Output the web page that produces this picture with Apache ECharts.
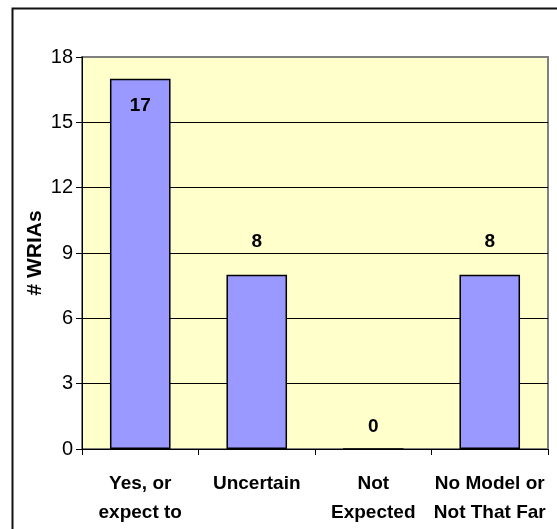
<!DOCTYPE html>
<html>
<head>
<meta charset="utf-8">
<script src="https://cdn.jsdelivr.net/npm/echarts@6/dist/echarts.min.js"></script>
<style>
  html, body { margin: 0; padding: 0; background: #ffffff; }
  #chart { width: 557px; height: 529px; }
</style>
</head>
<body>
<div id="chart"></div>
<script>
// Number of WRIAs per response category
const categories = ['Yes, or\nexpect to', 'Uncertain', 'Not\nExpected', 'No Model or\nNot That Far'];
const counts = [17, 8, 0, 8];
const yTicks = { min: 0, max: 18, step: 3 };
const yTitle = '# WRIAs';

// label placement per bar: tall bar keeps its label inside the top
const labelPlacement = [
  { position: 'insideTop', distance: 17 },
  { position: 'top', distance: 24 },
  { position: 'top', distance: 12 },
  { position: 'top', distance: 24 }
];

const chart = echarts.init(document.getElementById('chart'), null, { renderer: 'canvas' });

const barData = counts.map((v, i) => ({
  value: v,
  label: labelPlacement[i]
}));

chart.setOption({
  animation: false,
  backgroundColor: '#ffffff',
  textStyle: { fontFamily: 'Liberation Sans, Arial, sans-serif' },
  graphic: [{
    type: 'rect',
    left: 10, top: 6,
    shape: { width: 580, height: 560 },
    style: { fill: 'none', stroke: '#111111', lineWidth: 2 },
    silent: true,
    z: 100
  }],
  grid: {
    left: 82, right: 9, top: 57, bottom: 80,
    show: true,
    backgroundColor: '#FFFFCC',
    borderColor: '#808080',
    borderWidth: 2
  },
  xAxis: {
    type: 'category',
    data: categories,
    axisLine: { lineStyle: { color: '#000000', width: 1 } },
    axisTick: { show: true, length: 6, lineStyle: { color: '#000000' } },
    axisLabel: {
      color: '#000000',
      fontWeight: 'bold',
      fontSize: 19,
      lineHeight: 29,
      margin: 20,
      interval: 0,
      fontFamily: 'Liberation Sans, Arial, sans-serif'
    }
  },
  yAxis: {
    type: 'value',
    min: yTicks.min,
    max: yTicks.max,
    interval: yTicks.step,
    name: yTitle,
    nameLocation: 'middle',
    nameGap: 36,
    nameMoveOverlap: false,
    nameTextStyle: {
      color: '#000000',
      fontWeight: 'bold',
      fontSize: 21,
      fontFamily: 'Liberation Sans, Arial, sans-serif'
    },
    axisLine: { show: true, lineStyle: { color: '#000000', width: 1 } },
    axisTick: { show: true, length: 6, lineStyle: { color: '#000000' } },
    axisLabel: {
      color: '#000000',
      fontSize: 20,
      margin: 9,
      fontFamily: 'Liberation Sans, Arial, sans-serif'
    },
    splitLine: {
      show: true,
      showMaxLine: false,
      lineStyle: { color: '#000000', width: 1 }
    }
  },
  series: [{
    type: 'bar',
    data: barData,
    barWidth: '52%',
    itemStyle: {
      color: '#9999FF',
      borderColor: '#000000',
      borderWidth: 1.5
    },
    label: {
      show: true,
      color: '#000000',
      fontWeight: 'bold',
      fontSize: 19,
      fontFamily: 'Liberation Sans, Arial, sans-serif'
    }
  }]
});
</script>
</body>
</html>
